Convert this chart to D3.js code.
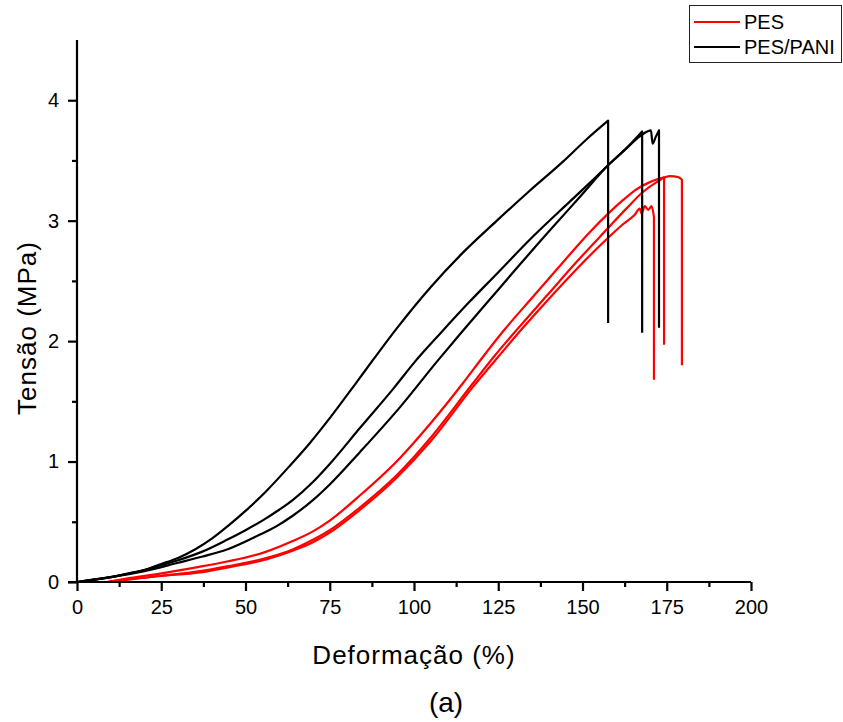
<!DOCTYPE html>
<html>
<head>
<meta charset="utf-8">
<script src="https://cdn.jsdelivr.net/npm/d3@7"></script>
<style>
  body { margin: 0; background: #fff; }
  text { font-family: "Liberation Sans", Arial, sans-serif; }
</style>
</head>
<body>
<div id="container"></div>
<script>
const widthSVG = 843,
    heightSVG = 722,
    plotLeft = 77,
    plotRight = 751,
    plotTop = 40,
    plotBottom = 582;

// PES (red) - strain (%) and stress (MPa)
const pes1X = [9,15,24.6,35,44.5,56,64,70,75,84,95.5,105,114.5,120.2,127,134.4,145,152,157.3,162,166,170,174.2,174.2];
const pes1Y = [0,0.03,0.07,0.12,0.17,0.25,0.34,0.42,0.51,0.72,1.02,1.32,1.65,1.86,2.1,2.34,2.68,2.9,3.05,3.17,3.26,3.32,3.36,1.97];
const pes2X = [9,15,24.6,36.5,44.5,56.4,64,70,75,84,95,105,117.5,124,131,139.5,148,157.3,163,168,172,174.5,176,178.5,179.5,179.5];
const pes2Y = [0,0.02,0.05,0.09,0.13,0.2,0.27,0.35,0.43,0.62,0.89,1.2,1.65,1.88,2.11,2.38,2.65,2.93,3.1,3.24,3.32,3.36,3.37,3.36,3.34,1.8];
const pes3X = [9,15,24.6,36.5,44.5,56.4,64,70,75,84,95,105,117.5,125,132,140,149,157.3,162,165.5,167,167.5,168.5,169.5,170.5,171.2,171.2];
const pes3Y = [0,0.02,0.05,0.08,0.12,0.19,0.26,0.33,0.41,0.6,0.87,1.17,1.62,1.87,2.1,2.35,2.62,2.85,2.97,3.05,3.1,3.06,3.12,3.09,3.12,3.03,1.68];

// PES/PANI (black)
const pani1X = [0,5,10,15,20,25,30,35,40,45,50,56,63,69,75,83,88,95,105,114,124.6,134,144.2,151,157.6,157.6];
const pani1Y = [0,0.02,0.04,0.07,0.1,0.15,0.2,0.27,0.36,0.47,0.59,0.75,0.96,1.15,1.36,1.66,1.85,2.11,2.45,2.72,3.0,3.24,3.49,3.67,3.83,2.15];
const pani2X = [0,10,20,30,37,44.5,50,55,60,64,70,75,84,94,100.3,108,116.6,124.6,135,146.3,152,157.6,163,167.7,167.7];
const pani2Y = [0,0.04,0.1,0.18,0.25,0.35,0.43,0.51,0.6,0.68,0.83,0.98,1.28,1.61,1.83,2.07,2.33,2.56,2.86,3.16,3.31,3.46,3.6,3.74,2.07];
const pani3X = [0,10,20,30,37,44.5,54,59,64,70,75,84,95.8,106.8,114,121.7,130,140,149,157.6,163,167,169.2,170.3,170.8,171.8,172.7,172.7];
const pani3Y = [0,0.04,0.09,0.16,0.21,0.27,0.39,0.46,0.55,0.68,0.81,1.08,1.45,1.83,2.07,2.32,2.59,2.91,3.19,3.46,3.6,3.7,3.74,3.75,3.64,3.7,3.75,2.11];

const xTicks = [0,25,50,75,100,125,150,175,200];
const xMinor = [12.5,37.5,62.5,87.5,112.5,137.5,162.5,187.5];
const yTicks = [0,1,2,3,4];
const yMinor = [0.5,1.5,2.5,3.5];

const series = [
    {name: 'PES', color: '#ff0000', curves: [[pes1X, pes1Y], [pes2X, pes2Y], [pes3X, pes3Y]]},
    {name: 'PES/PANI', color: '#000000', curves: [[pani1X, pani1Y], [pani2X, pani2Y], [pani3X, pani3Y]]}
];

const xScale = d3.scaleLinear().domain([0, 200]).range([plotLeft, plotRight]);
const yScale = d3.scaleLinear().domain([0, 4.5]).range([plotBottom, plotTop]);

const svg = d3.select('#container')
    .append('svg')
    .attr('width', widthSVG)
    .attr('height', heightSVG);

// smooth part of the curve, then a straight drop at rupture
const smooth = d3.line()
    .x(d => xScale(d[0]))
    .y(d => yScale(d[1]))
    .curve(d3.curveMonotoneX);

// curves - red first, black drawn over it
series.forEach(s => {
    s.curves.forEach(c => {
        const pts = c[0].map((x, i) => [x, c[1][i]]);
        const last = pts[pts.length - 1];
        svg.append('path')
            .attr('d', smooth(pts.slice(0, -1)) + `L${xScale(last[0])},${yScale(last[1])}`)
            .attr('fill', 'none')
            .attr('stroke', s.color)
            .attr('stroke-width', 2.2)
            .attr('stroke-linejoin', 'round');
    });
});

// axes
const xAxis = svg.append('g')
    .attr('transform', `translate(0,${plotBottom})`)
    .call(d3.axisBottom(xScale).tickValues(xTicks).tickSize(9).tickPadding(9));
svg.append('g')
    .attr('class', 'minor')
    .attr('transform', `translate(0,${plotBottom})`)
    .call(d3.axisBottom(xScale).tickValues(xMinor).tickSize(5).tickFormat(''))
    .select('.domain').remove();

const yAxis = svg.append('g')
    .attr('transform', `translate(${plotLeft},0)`)
    .call(d3.axisLeft(yScale).tickValues(yTicks).tickFormat(d3.format('d')).tickSize(9).tickPadding(9));
svg.append('g')
    .attr('class', 'minor')
    .attr('transform', `translate(${plotLeft},0)`)
    .call(d3.axisLeft(yScale).tickValues(yMinor).tickSize(5).tickFormat(''))
    .select('.domain').remove();

svg.selectAll('.domain').attr('stroke-width', 2.2);
xAxis.select('.domain').attr('d', `M${plotLeft - 9},0H${plotRight}`);
yAxis.select('.domain').attr('d', `M0,${plotBottom}V${plotTop}`);
svg.selectAll('.tick line').attr('stroke-width', 2.2);

xAxis.selectAll('.tick text')
    .attr('font-size', 20)
    .attr('font-family', '"Liberation Sans", Arial, sans-serif')
    .attr('fill', '#000');
yAxis.selectAll('.tick text')
    .attr('font-size', 20)
    .attr('font-family', '"Liberation Sans", Arial, sans-serif')
    .attr('fill', '#000');

// axis titles
svg.append('text')
    .attr('x', (plotLeft + plotRight) / 2)
    .attr('y', 664)
    .attr('text-anchor', 'middle')
    .attr('font-size', 26)
    .attr('letter-spacing', 1)
    .text('Deformação (%)');

svg.append('text')
    .attr('transform', `translate(36,328) rotate(-90)`)
    .attr('text-anchor', 'middle')
    .attr('font-size', 26)
    .attr('letter-spacing', 1)
    .text('Tensão (MPa)');

// legend
const legend = svg.append('g').attr('id', 'legend');
legend.append('rect')
    .attr('x', 689.5)
    .attr('y', 5.5)
    .attr('width', 152)
    .attr('height', 57)
    .attr('fill', '#fff')
    .attr('stroke', '#222')
    .attr('stroke-width', 1);
series.forEach((s, i) => {
    const ly = 22 + i * 25;
    legend.append('line')
        .attr('x1', 694).attr('x2', 740)
        .attr('y1', ly).attr('y2', ly)
        .attr('stroke', s.color)
        .attr('stroke-width', 2);
    legend.append('text')
        .attr('x', 744)
        .attr('y', ly + 7)
        .attr('font-size', 20)
        .text(s.name);
});

// panel label
svg.append('text')
    .attr('x', 446)
    .attr('y', 712)
    .attr('text-anchor', 'middle')
    .attr('font-family', '"Liberation Serif", "Times New Roman", serif')
    .attr('font-size', 28)
    .text('(a)');
</script>
</body>
</html>
